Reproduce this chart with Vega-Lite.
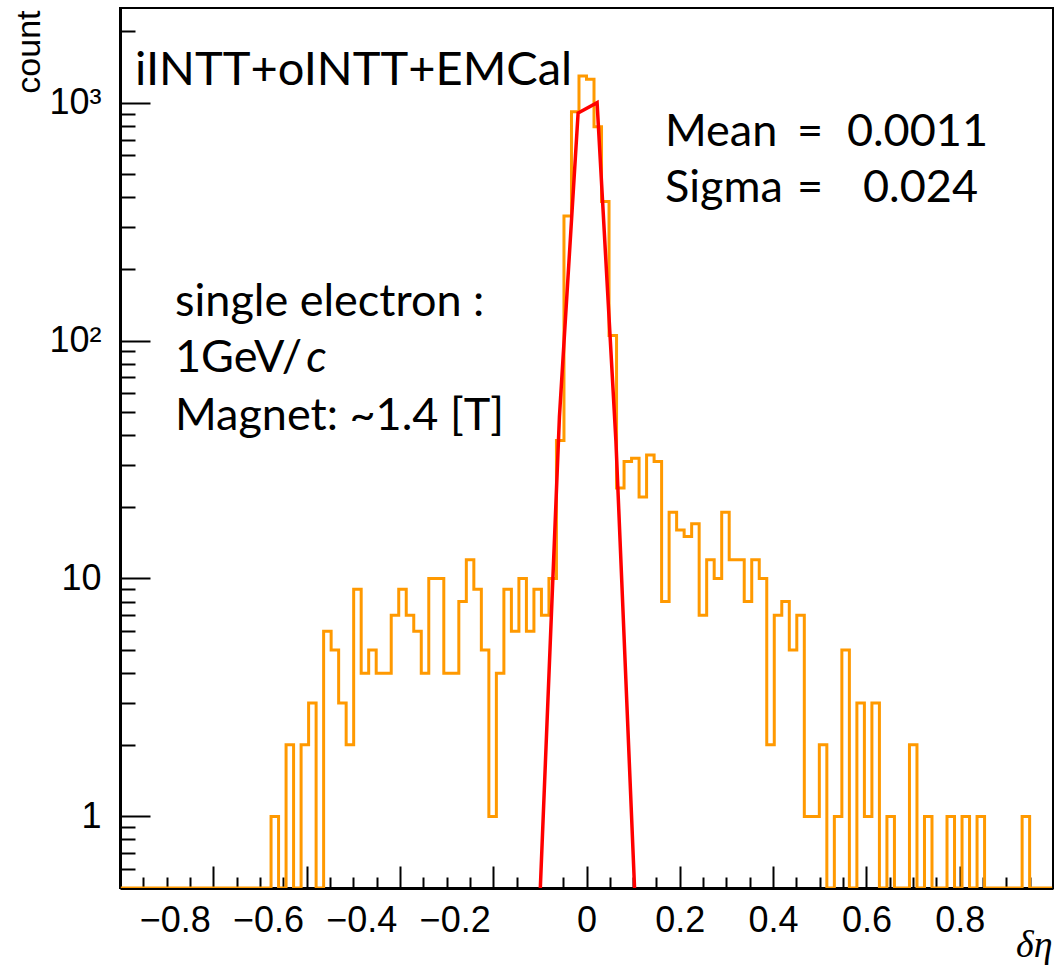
{
  "$schema": "https://vega.github.io/schema/vega-lite/v6.json",
  "width": 933,
  "height": 880,
  "autosize": "none",
  "padding": {"left": 120, "top": 8, "right": 1, "bottom": 80},
  "background": "white",
  "config": {
    "view": {"stroke": "black", "strokeWidth": 2},
    "axis": {"grid": false, "domainColor": "black", "tickColor": "black", "labelColor": "black", "titleColor": "black", "labelFont": "Liberation Sans", "titleFont": "Liberation Sans"},
    "text": {"font": "Lato", "fontSize": 45, "color": "black", "baseline": "alphabetic"}
  },
  "datasets": {
    "hist": [
      {"x": -0.9982, "n": 0}, {"x": -0.9821, "n": 0}, {"x": -0.966, "n": 0}, {"x": -0.9499, "n": 0},
      {"x": -0.9338, "n": 0}, {"x": -0.9177, "n": 0}, {"x": -0.9016, "n": 0}, {"x": -0.8855, "n": 0},
      {"x": -0.8694, "n": 0}, {"x": -0.8533, "n": 0}, {"x": -0.8372, "n": 0}, {"x": -0.8211, "n": 0},
      {"x": -0.805, "n": 0}, {"x": -0.7889, "n": 0}, {"x": -0.7728, "n": 0}, {"x": -0.7567, "n": 0},
      {"x": -0.7406, "n": 0}, {"x": -0.7245, "n": 0}, {"x": -0.7084, "n": 0}, {"x": -0.6923, "n": 0},
      {"x": -0.6762, "n": 1}, {"x": -0.6601, "n": 0}, {"x": -0.644, "n": 2}, {"x": -0.6279, "n": 0},
      {"x": -0.6118, "n": 2}, {"x": -0.5957, "n": 3}, {"x": -0.5796, "n": 0}, {"x": -0.5635, "n": 6},
      {"x": -0.5474, "n": 5}, {"x": -0.5313, "n": 3}, {"x": -0.5152, "n": 2}, {"x": -0.4991, "n": 9},
      {"x": -0.483, "n": 4}, {"x": -0.4669, "n": 5}, {"x": -0.4508, "n": 4}, {"x": -0.4347, "n": 4},
      {"x": -0.4186, "n": 7}, {"x": -0.4025, "n": 9}, {"x": -0.3864, "n": 7}, {"x": -0.3703, "n": 6},
      {"x": -0.3542, "n": 4}, {"x": -0.3381, "n": 10}, {"x": -0.322, "n": 10}, {"x": -0.3059, "n": 4},
      {"x": -0.2898, "n": 4}, {"x": -0.2737, "n": 8}, {"x": -0.2576, "n": 12}, {"x": -0.2415, "n": 9},
      {"x": -0.2254, "n": 5}, {"x": -0.2093, "n": 1}, {"x": -0.1932, "n": 4}, {"x": -0.1771, "n": 9},
      {"x": -0.161, "n": 6}, {"x": -0.1449, "n": 10}, {"x": -0.1288, "n": 6}, {"x": -0.1127, "n": 9},
      {"x": -0.0966, "n": 7}, {"x": -0.0805, "n": 10}, {"x": -0.0644, "n": 38}, {"x": -0.0483, "n": 334},
      {"x": -0.0322, "n": 916}, {"x": -0.0161, "n": 1295}, {"x": 0, "n": 1254}, {"x": 0.0161, "n": 793},
      {"x": 0.0322, "n": 384}, {"x": 0.0483, "n": 105}, {"x": 0.0644, "n": 24}, {"x": 0.0805, "n": 31},
      {"x": 0.0966, "n": 32}, {"x": 0.1127, "n": 22}, {"x": 0.1288, "n": 33}, {"x": 0.1449, "n": 31},
      {"x": 0.161, "n": 8}, {"x": 0.1771, "n": 19}, {"x": 0.1932, "n": 16}, {"x": 0.2093, "n": 15},
      {"x": 0.2254, "n": 17}, {"x": 0.2415, "n": 7}, {"x": 0.2576, "n": 12}, {"x": 0.2737, "n": 10},
      {"x": 0.2898, "n": 19}, {"x": 0.3059, "n": 12}, {"x": 0.322, "n": 12}, {"x": 0.3381, "n": 8},
      {"x": 0.3542, "n": 12}, {"x": 0.3703, "n": 10}, {"x": 0.3864, "n": 2}, {"x": 0.4025, "n": 7},
      {"x": 0.4186, "n": 8}, {"x": 0.4347, "n": 5}, {"x": 0.4508, "n": 7}, {"x": 0.4669, "n": 1},
      {"x": 0.483, "n": 1}, {"x": 0.4991, "n": 2}, {"x": 0.5152, "n": 0}, {"x": 0.5313, "n": 1},
      {"x": 0.5474, "n": 5}, {"x": 0.5635, "n": 0}, {"x": 0.5796, "n": 3}, {"x": 0.5957, "n": 1},
      {"x": 0.6118, "n": 3}, {"x": 0.6279, "n": 0}, {"x": 0.644, "n": 1}, {"x": 0.6601, "n": 0},
      {"x": 0.6762, "n": 0}, {"x": 0.6923, "n": 2}, {"x": 0.7084, "n": 0}, {"x": 0.7245, "n": 1},
      {"x": 0.7406, "n": 0}, {"x": 0.7567, "n": 0}, {"x": 0.7728, "n": 1}, {"x": 0.7889, "n": 0},
      {"x": 0.805, "n": 1}, {"x": 0.8211, "n": 0}, {"x": 0.8372, "n": 1}, {"x": 0.8533, "n": 0},
      {"x": 0.8694, "n": 0}, {"x": 0.8855, "n": 0}, {"x": 0.9016, "n": 0}, {"x": 0.9177, "n": 0},
      {"x": 0.9338, "n": 1}, {"x": 0.9499, "n": 0}, {"x": 0.966, "n": 0}, {"x": 0.9821, "n": 0},
      {"x": 0.9982, "n": 0}
    ],
    "fit": [
      {"x": -0.099, "f": 0.17}, {"x": -0.058, "f": 48}, {"x": -0.018, "f": 905},
      {"x": 0.0227, "f": 1000}, {"x": 0.063, "f": 38}, {"x": 0.103, "f": 0.13}
    ],
    "one": [{"id": 1}]
  },
  "layer": [
    {
      "data": {"name": "hist"},
      "mark": {"type": "line", "interpolate": "step-after", "stroke": "#FF9900", "strokeWidth": 3, "clip": true, "invalid": "show"},
      "encoding": {
        "x": {"field": "x", "type": "quantitative",
          "scale": {"domain": [-1, 1], "nice": false, "zero": false},
          "axis": {"orient": "bottom", "values": [-0.8, -0.6, -0.4, -0.2, 0, 0.2, 0.4, 0.6, 0.8], "format": "~g",
            "tickSize": -22, "tickWidth": 2, "domainWidth": 3, "labelFontSize": 36, "labelPadding": 37,
            "labelAlign": {"condition": {"test": "datum.value < 0", "value": "right"}, "value": "center"},
            "labelOffset": {"condition": {"test": "datum.value < 0", "value": -3}, "value": 0},
            "labelFlush": false, "labelOverlap": false,
            "title": "δη", "titleFont": "Liberation Serif", "titleFontStyle": "italic", "titleFontWeight": "normal",
            "titleFontSize": 38, "titleAnchor": "end", "titleAlign": "right", "titleX": 932, "titleY": 68, "titleBaseline": "alphabetic"}},
        "y": {"field": "n", "type": "quantitative",
          "scale": {"type": "log", "domain": [0.5, 2500], "nice": false, "clamp": true},
          "axis": {"orient": "left", "values": [1, 10, 100, 1000],
            "labelExpr": "datum.value >= 1000 ? '10³' : datum.value >= 100 ? '10²' : datum.value >= 10 ? '10' : '1'",
            "tickSize": -30, "tickWidth": 2, "domainWidth": 3, "labelFontSize": 36, "labelPadding": 49,
            "labelOverlap": false, "labelFlush": false,
            "title": "count", "titleFontSize": 34, "titleFontWeight": "normal", "titleAngle": 270,
            "titleAnchor": "end", "titleAlign": "right", "titleBaseline": "middle", "titleX": -91, "titleY": 2}}
      }
    },
    {
      "data": {"name": "fit"},
      "mark": {"type": "line", "stroke": "#FF0000", "strokeWidth": 3.5, "clip": true},
      "encoding": {
        "x": {"field": "x", "type": "quantitative",
          "scale": {"domain": [-1, 1], "nice": false, "zero": false},
          "axis": {"orient": "bottom", "values": [-0.95, -0.9, -0.85, -0.75, -0.7, -0.65, -0.55, -0.5, -0.45, -0.35, -0.3, -0.25, -0.15, -0.1, -0.05, 0.05, 0.1, 0.15, 0.25, 0.3, 0.35, 0.45, 0.5, 0.55, 0.65, 0.7, 0.75, 0.85, 0.9, 0.95],
            "tickSize": -11, "tickWidth": 2, "labels": false, "domain": false, "title": null}},
        "y": {"field": "f", "type": "quantitative",
          "scale": {"type": "log", "domain": [0.5, 2500], "nice": false, "clamp": true},
          "axis": {"orient": "left", "values": [0.6, 0.7, 0.8, 0.9, 2, 3, 4, 5, 6, 7, 8, 9, 20, 30, 40, 50, 60, 70, 80, 90, 200, 300, 400, 500, 600, 700, 800, 900, 2000],
            "tickSize": -15, "tickWidth": 2, "labels": false, "domain": false, "title": null}}
      }
    },
    {
      "data": {"name": "one"},
      "mark": {"type": "text", "text": "iINTT+oINTT+EMCal", "fontSize": 47, "align": "left"},
      "encoding": {"x": {"datum": -0.9678, "type": "quantitative", "axis": null}, "y": {"datum": 1187, "type": "quantitative", "axis": null}}
    },
    {
      "data": {"name": "one"},
      "mark": {"type": "text", "text": "Mean", "align": "left"},
      "encoding": {"x": {"datum": 0.1683, "type": "quantitative", "axis": null}, "y": {"datum": 657, "type": "quantitative", "axis": null}}
    },
    {
      "data": {"name": "one"},
      "mark": {"type": "text", "text": "=", "align": "center"},
      "encoding": {"x": {"datum": 0.479, "type": "quantitative", "axis": null}, "y": {"datum": 657, "type": "quantitative", "axis": null}}
    },
    {
      "data": {"name": "one"},
      "mark": {"type": "text", "text": "0.0011", "align": "right"},
      "encoding": {"x": {"datum": 0.8607, "type": "quantitative", "axis": null}, "y": {"datum": 657, "type": "quantitative", "axis": null}}
    },
    {
      "data": {"name": "one"},
      "mark": {"type": "text", "text": "Sigma", "align": "left"},
      "encoding": {"x": {"datum": 0.1683, "type": "quantitative", "axis": null}, "y": {"datum": 382, "type": "quantitative", "axis": null}}
    },
    {
      "data": {"name": "one"},
      "mark": {"type": "text", "text": "=", "align": "center"},
      "encoding": {"x": {"datum": 0.479, "type": "quantitative", "axis": null}, "y": {"datum": 382, "type": "quantitative", "axis": null}}
    },
    {
      "data": {"name": "one"},
      "mark": {"type": "text", "text": "0.024", "align": "right"},
      "encoding": {"x": {"datum": 0.8392, "type": "quantitative", "axis": null}, "y": {"datum": 382, "type": "quantitative", "axis": null}}
    },
    {
      "data": {"name": "one"},
      "mark": {"type": "text", "text": "single electron :", "align": "left"},
      "encoding": {"x": {"datum": -0.8821, "type": "quantitative", "axis": null}, "y": {"datum": 127, "type": "quantitative", "axis": null}}
    },
    {
      "data": {"name": "one"},
      "mark": {"type": "text", "text": "1GeV/", "align": "left"},
      "encoding": {"x": {"datum": -0.8821, "type": "quantitative", "axis": null}, "y": {"datum": 73.8, "type": "quantitative", "axis": null}}
    },
    {
      "data": {"name": "one"},
      "mark": {"type": "text", "text": "c", "fontStyle": "italic", "align": "left"},
      "encoding": {"x": {"datum": -0.601, "type": "quantitative", "axis": null}, "y": {"datum": 73.8, "type": "quantitative", "axis": null}}
    },
    {
      "data": {"name": "one"},
      "mark": {"type": "text", "text": "Magnet: ~1.4 [T]", "align": "left"},
      "encoding": {"x": {"datum": -0.8821, "type": "quantitative", "axis": null}, "y": {"datum": 42.1, "type": "quantitative", "axis": null}}
    }
  ],
  "resolve": {"axis": {"x": "independent", "y": "independent"}}
}
